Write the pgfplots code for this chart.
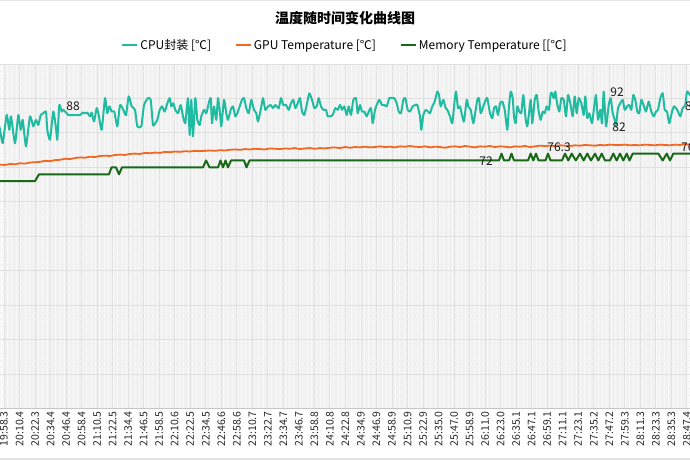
\documentclass[border=0pt]{standalone}
\usepackage{fontspec}
\setmainfont{Noto Sans CJK SC}
\usepackage{pgfplots}
\pgfplotsset{compat=1.18}
\definecolor{cpu}{RGB}{32,187,160}
\definecolor{gpu}{RGB}{240,104,34}
\definecolor{mem}{RGB}{24,104,24}
\definecolor{bgc}{RGB}{249,249,249}
\definecolor{gmaj}{RGB}{224,224,224}
\definecolor{gmin}{RGB}{241,241,241}
\begin{document}
\begin{tikzpicture}
\useasboundingbox (0pt,0pt) rectangle (690pt,460pt);
\fill[white] (0pt,0pt) rectangle (690pt,460pt);
\draw[gray!20, line width=1.5pt] (0pt,459.5pt) -- (690pt,459.5pt);
\draw[gray!20, line width=1.5pt] (0pt,1.2pt) -- (690pt,1.2pt);
\node[font=\bfseries\fontsize{14}{16}\selectfont] at (345pt,442pt) {温度随时间变化曲线图};
\begin{axis}[
  at={(0pt,51.4pt)}, anchor=south west,
  width=690pt, height=344.6pt, scale only axis,
  xmin=0, xmax=690, ymin=0, ymax=100,
  ytick={0,10,...,100}, yticklabels={},
  minor y tick num=4,
  xtick={4,19.52,...,690},
  minor x tick num=11,
  xticklabels={19:58.3,20:10.4,20:22.3,20:34.4,20:46.4,20:58.4,21:10.5,21:22.5,21:34.4,21:46.5,21:58.5,22:10.6,22:22.5,22:34.5,22:46.6,22:58.6,23:10.7,23:22.7,23:34.7,23:46.7,23:58.8,24:10.8,24:22.8,24:34.9,24:46.9,24:58.9,25:10.9,25:22.9,25:35.0,25:47.0,25:58.9,26:11.0,26:23.0,26:35.1,26:47.1,26:59.1,27:11.1,27:23.1,27:35.2,27:47.2,27:59.3,28:11.3,28:23.3,28:35.3,28:47.4},
  xticklabel style={rotate=90, anchor=east, font=\fontsize{10.5}{10.5}\selectfont, text=black!85, inner sep=2.5pt},
  grid=both,
  major grid style={draw=gmaj, line width=0.9pt},
  minor grid style={draw=gmin, line width=0.4pt},
  tick style={draw=none},
  axis line style={draw=none},
  axis background/.style={fill=bgc},
  legend style={at={(0.5,1.055)}, anchor=center, legend columns=3, draw=none, fill=none,
    font=\fontsize{12}{14}\selectfont, inner sep=0pt,
    /tikz/every even column/.append style={column sep=22pt},
    nodes={inner xsep=2pt}},
  legend image code/.code={\draw[#1] (0pt,0pt) -- (15pt,0pt);},
]
\addplot[cpu, line width=2pt, line join=round, smooth, tension=0.3] coordinates {
(-3,84)(0,81)(2.7,77)(6.7,85.2)(9.3,80.9)(11,84.8)(15,77)(18.3,85.2)(20.7,80.9)(22.7,83.8)(26,76.1)(30,84.8)(33.3,81.9)(36,83.8)(38.3,82.3)(40.7,85.2)(43.3,85.7)(46,86.2)(47.3,80.9)(50,78)(53.3,86.2)(56,81.4)(57.3,78)(59.3,88.1)(61.7,86.2)(63.3,86.7)(66.7,85.7)(68.3,85.2)(80,85.2)(82.7,85.9)(85,85.7)(87.3,85.9)(90,84.8)(91.7,85.9)(94,83.3)(96.7,87.2)(98.7,85.2)(101.7,80.9)(105,90.1)(107.3,85.7)(109.3,87.7)(111.7,86.2)(114.3,86.2)(117.3,81.9)(120,88.1)(123.3,86.7)(126,85.2)(128.7,90.6)(131.7,87.7)(135,86.7)(137.3,81.9)(141.3,81.9)(144,88.1)(148,90.1)(150.7,89.6)(153,82.3)(155.3,82.8)(157.3,83.8)(159.7,86.7)(162,87.7)(164.7,86.2)(167.3,88.6)(169.7,90.1)(171.3,87.7)(173.3,88.6)(175.3,86.7)(178,85.7)(180.7,88.1)(183,84.8)(185.3,82.8)(188,90.1)(189.7,79.4)(191.3,89.6)(193,79)(195.3,90.1)(197.3,83.8)(199.7,82.3)(201.3,84.8)(204,86.7)(206.3,85.7)(208.7,88.6)(210.7,90.1)(212,82.8)(214,87.7)(216.3,83.8)(218,90.1)(220,85.7)(221.3,81.9)(224,89.6)(226.3,85.7)(228,83.8)(230.7,86.7)(233,87.7)(235.3,84.8)(237.3,85.7)(239.7,87.7)(242,89.6)(244,90.1)(246.3,87.2)(248.7,85.7)(251.3,89.6)(254,86.7)(256.3,85.7)(258,83.3)(260.7,86.7)(263,90.1)(265.3,86.7)(268,87.7)(270.7,88.1)(273,87.2)(275.3,88.1)(278.7,87.2)(281,90.1)(283.3,88.1)(286,88.1)(288.7,86.7)(291,88.6)(293.3,89.6)(295.3,87.2)(297.7,88.6)(300,90.1)(302,86.2)(304.3,85.2)(306.7,88.1)(309.3,91.5)(312,89.6)(314.3,87.2)(316.7,87.7)(318.7,90.1)(321,87.7)(323.3,86.7)(326,86.7)(327.7,84.8)(330,84.8)(332.7,85.2)(335.3,87.2)(337.7,86.7)(340,88.1)(342,86.7)(344.3,87.7)(346.7,85.2)(348.7,87.7)(351,85.2)(353.3,89.6)(356,90.1)(357.7,85.7)(360,88.1)(362,86.2)(364.3,86.2)(366.7,84.8)(368.7,86.2)(371,87.2)(372.7,82.8)(375,86.7)(376.7,88.1)(379.3,89.6)(382,88.1)(384.3,88.1)(386.7,87.7)(389.3,90.1)(392,90.1)(394.3,90.1)(396.7,88.6)(398.7,86.2)(401,85.7)(403.3,89.6)(405.3,90.1)(407.7,86.7)(410,86.2)(412.7,87.7)(415.3,88.1)(417.3,88.1)(420,84.8)(421.3,80.9)(423.3,85.2)(425.7,86.7)(428,86.2)(430,85.7)(432.3,87.7)(434.7,89.1)(437.3,92)(439,91)(440.7,87.7)(443.3,89.6)(445.7,87.2)(447.3,86.7)(450,84.8)(452.3,82.8)(454.7,89.6)(456,92)(458,87.2)(460,87.7)(462.3,84.8)(464,83.3)(466.7,89.6)(468.3,87.7)(470.7,86.7)(473.3,82.8)(475.7,86.7)(477.3,89.6)(479,90.1)(480.7,85.7)(483.3,87.7)(485.7,89.6)(487.3,90.1)(490,85.7)(492.3,84.3)(494,87.2)(496,87.7)(498,85.2)(500,88.6)(502.3,89.1)(504.7,86.7)(507.3,80.9)(509,87.7)(510.7,92)(512.7,90.1)(514,84.8)(515.7,82.8)(517.3,87.7)(519.3,86.2)(521.3,85.7)(523.3,91)(525.7,83.8)(527.3,81.9)(529,85.7)(530.7,89.6)(532.3,82.8)(534.7,89.6)(536.7,91)(538.7,86.2)(540.7,83.8)(542.7,86.2)(544.7,85.7)(546.7,87.7)(549,86.7)(550.7,91.5)(552,91.5)(553.7,90.1)(555.3,92)(557,88.6)(559.3,86.2)(561.3,90.1)(563.7,89.6)(566,84.8)(568,91)(570.3,88.6)(572.7,84.8)(574.7,90.6)(576.7,85.7)(578.7,90.1)(581.3,88.6)(583.7,85.2)(585.3,90.6)(587.3,84.3)(589.3,85.7)(592,82.8)(594,87.2)(596,91)(598,83.8)(600.3,86.7)(602,82.8)(603.7,92)(606,81.9)(608.7,88.1)(610.7,90.1)(612.7,85.7)(614.7,83.8)(616,82.3)(618,87.2)(620.3,88.6)(622.7,89.6)(624.7,86.7)(627,87.7)(629.3,88.1)(631.3,86.7)(633.3,91)(635.3,89.6)(637.3,86.2)(639.3,85.7)(641.3,89.6)(644,87.7)(646,86.2)(648.7,89.1)(651.3,86.2)(653.7,84.8)(656,86.2)(658,86.7)(660.3,90.1)(662.7,91.5)(664.7,86.7)(667,86.2)(669.3,82.8)(672,86.2)(674,87.7)(676,87.2)(678,86.2)(680.3,84.8)(682.7,87.2)(685.3,88.1)(687,92)(690,91)(693,90)
};
\addlegendentry{CPU封装 [℃]}
\addplot[gpu, line width=1.8pt, line join=round] coordinates {
(-3,70.8)(0,70.8)(5,70.7)(10,71.0)(15,70.9)(20,71.2)(25,71.1)(30,71.4)(35,71.5)(40,71.6)(45,71.9)(50,71.8)(55,72.1)(60,72.2)(65,72.5)(70,72.4)(75,72.7)(80,72.9)(85,72.8)(90,73.1)(95,73.0)(100,73.3)(105,73.4)(110,73.3)(115,73.6)(120,73.7)(125,73.6)(130,73.9)(135,74.0)(140,73.9)(145,74.2)(150,74.1)(155,74.3)(160,74.2)(165,74.5)(170,74.4)(175,74.6)(180,74.5)(185,74.7)(190,74.6)(195,74.8)(200,74.7)(205,74.8)(210,74.9)(215,74.8)(220,75.0)(225,74.9)(230,75.1)(235,75.2)(240,75.1)(245,75.3)(250,75.2)(255,75.4)(260,75.3)(265,75.2)(270,75.5)(275,75.4)(280,75.3)(285,75.5)(290,75.4)(295,75.6)(300,75.3)(305,75.5)(310,75.6)(315,75.4)(320,75.6)(325,75.5)(330,75.7)(335,75.8)(340,75.6)(345,75.9)(350,75.7)(355,75.9)(360,75.8)(365,76.0)(370,75.8)(375,75.9)(380,76.1)(385,75.9)(390,76.0)(395,75.8)(400,76.1)(405,76.0)(410,76.2)(415,76.0)(420,75.9)(425,76.1)(430,75.8)(435,76.0)(440,75.9)(445,75.7)(450,76.0)(455,76.1)(460,75.9)(465,76.2)(470,76.0)(475,75.8)(480,76.1)(485,76.0)(490,76.2)(495,75.9)(500,76.1)(505,76.0)(510,75.8)(515,76.1)(520,76.0)(525,76.2)(530,75.9)(535,76.1)(540,76.3)(545,76.2)(550,76.3)(555,76.2)(560,76.4)(565,76.3)(570,76.2)(575,76.4)(580,76.3)(585,76.5)(590,76.4)(595,76.3)(600,76.5)(605,76.4)(610,76.6)(615,76.5)(620,76.5)(625,76.6)(630,76.4)(635,76.5)(640,76.4)(645,76.6)(650,76.5)(655,76.4)(660,76.6)(665,76.5)(670,76.4)(675,76.6)(680,76.5)(685,76.7)(690,76.6)(693,76.6)
};
\addlegendentry{GPU Temperature [℃]}
\addplot[mem, line width=2pt, line join=round] coordinates {
(-3,66)(35,66)(39,68)(109,68)(111.5,70)(116,70)(119,68)(122,70)(203,70)(206,72)(209.5,70)(218,70)(220.5,72)(223,70)(225.5,72)(228,70)(231,72)(244,72)(246.5,70)(249.5,72)(499,72)(501.5,74)(504,72)(509,72)(511.5,74)(514,72)(528,72)(530.7,74)(533.3,72)(536,74)(538.5,72)(545.5,72)(548,74)(550.5,72)(562,72)(565,74)(568.3,72)(571.7,74)(575.8,72)(580,74)(583.6,72)(587.3,74)(591,72)(595,74)(598.3,72)(601.7,74)(605,72)(610,72)(613.3,74)(616.7,72)(620,74)(623.3,72)(626.7,74)(629.5,72)(632.7,74)(658.3,74)(662.7,72)(666.7,74)(670,72)(673.3,74)(693,74)
};
\addlegendentry{Memory Temperature [[℃]}
\draw[gray!45, line width=1pt] (rel axis cs:0,0) -- (rel axis cs:1,0);
\begin{scope}[every node/.style={font=\fontsize{12}{12}\selectfont, inner sep=0pt, text=black!90}]
\node at (axis cs:73,87.8) {88};
\node at (axis cs:617,91.8) {92};
\node at (axis cs:619,81.7) {82};
\node at (axis cs:486,71.7) {72};
\node at (axis cs:559,75.9) {76.3};
\node[anchor=west] at (axis cs:681,75.9) {76.9};
\node[anchor=west] at (axis cs:685,87.8) {88};
\end{scope}
\end{axis}
\end{tikzpicture}
\end{document}
